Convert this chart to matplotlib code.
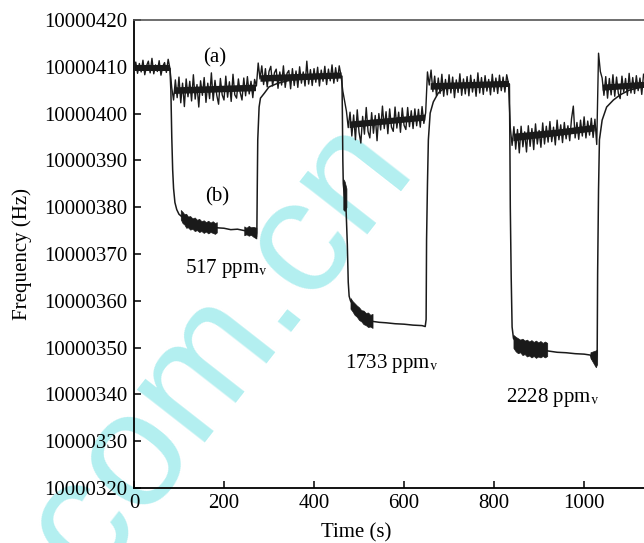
import numpy as np
import matplotlib.pyplot as plt

plt.rcParams['font.family'] = ['Liberation Serif', 'DejaVu Serif']
plt.rcParams['mathtext.fontset'] = 'stix'

BASE = 10000000  # frequencies below are Hz above 10 MHz

# curve (a): one reading every 4 s, starting at t = 0
a_step = 4
a_freq = [
    # 0-80 s
    409.9, 411.0, 408.6, 410.7, 408.9, 411.4, 408.3, 410.2, 411.2, 408.7,
    411.8, 408.5, 410.4, 409.0, 411.3, 408.2, 410.1, 410.9, 408.8, 411.6, 409.6,
    # 84-272 s, 517 ppmv
    405.5,
    402.9, 407.2, 403.4, 407.8, 402.3, 406.5, 401.5, 407.4, 403.6, 406.9,
    402.7, 408.3, 403.1, 406.2, 401.4, 407.0, 403.9, 407.7, 402.4, 406.5,
    403.2, 408.7, 402.8, 407.1, 403.9, 402.0, 407.5, 404.0, 402.9, 408.0,
    403.5, 406.8, 402.6, 408.4, 404.0, 403.3, 407.4, 404.5, 402.9, 407.6,
    403.8, 407.9, 404.2, 406.9, 403.4, 407.3, 405.9,
    # 276-460 s
    410.8, 407.4, 410.2, 406.2, 409.6, 405.7, 409.0, 410.1, 405.9, 408.7,
    409.5, 405.4, 408.9, 406.1, 410.2, 405.6, 408.6, 409.2, 405.3, 409.6,
    406.0, 409.1, 405.6, 410.0, 406.5, 408.9, 405.9, 411.2, 406.3, 409.4,
    406.0, 409.6, 406.7, 409.9, 405.9, 409.3, 406.9, 410.1, 406.2, 409.5,
    407.0, 410.4, 406.5, 409.8, 406.9, 410.2, 408.1,
    # 464-648 s, 1733 ppmv
    404.8, 402.6, 400.5, 397.0, 400.3, 395.2, 399.7, 394.4, 400.8, 396.0,
    393.7, 399.4, 395.6, 401.3, 396.2, 394.8, 400.2, 395.8, 399.6, 394.2,
    400.0, 396.5, 401.6, 396.8, 400.4, 395.7, 401.0, 397.1, 396.2, 401.4,
    396.9, 400.3, 396.0, 401.2, 397.5, 396.6, 401.3, 397.2, 400.6, 396.8,
    401.0, 397.4, 400.9, 397.1, 401.5, 397.9, 400.2,
    # 652-832 s
    408.9, 406.1, 409.3, 404.7, 408.0, 403.8, 407.6, 404.3, 408.4, 403.7,
    407.3, 404.0, 408.3, 404.4, 407.8, 403.4, 407.2, 404.5, 408.5, 403.9,
    407.4, 404.2, 407.9, 403.8, 408.2, 404.6, 407.3, 403.7, 408.7, 404.4,
    407.7, 404.1, 408.1, 404.8, 407.3, 404.0, 408.4, 404.7, 407.6, 404.3,
    408.2, 404.9, 407.8, 404.6, 408.3, 406.4,
    # 836-1028 s, 2228 ppmv
    397.0, 393.2, 397.2, 392.4, 396.6, 391.6, 397.3, 392.9, 396.1, 391.8,
    397.4, 393.0, 396.8, 392.3, 397.8, 393.5, 396.4, 392.8, 398.0, 393.5,
    397.3, 393.9, 398.3, 394.0, 397.1, 393.3, 398.6, 394.4, 397.6, 393.8,
    398.1, 394.6, 397.4, 394.2, 398.9, 401.6, 394.8, 398.1, 394.5, 398.6,
    395.2, 399.3, 394.8, 398.4, 395.4, 399.0, 394.9, 398.8, 393.4,
    # 1032-1132 s
    412.9, 409.0, 407.6, 403.9, 407.9, 403.3, 407.5, 404.0, 408.3, 403.7,
    407.8, 404.3, 403.2, 408.0, 404.6, 407.5, 403.9, 408.6, 404.4, 407.7,
    404.3, 408.1, 404.9, 407.6, 404.1, 408.4,
]

# dense core of the (a) noise on each plateau: (times, lower edge, upper edge)
a_core = [
    ([0, 80], [409.0, 409.0], [410.3, 410.3]),
    ([88, 270], [404.3, 404.9], [405.7, 406.3]),
    ([280, 460], [406.9, 407.6], [408.3, 408.9]),
    ([478, 560, 646], [397.0, 397.8, 398.6], [398.4, 399.1, 399.9]),
    ([658, 832], [405.2, 405.8], [406.6, 407.1]),
    ([842, 940, 1022], [394.2, 395.3, 396.3], [395.8, 396.7, 397.7]),
    ([1040, 1133], [405.0, 405.6], [406.3, 406.9]),
]

# curve (b): trace read point by point
b_time = [80, 82, 84, 86, 88, 91, 95, 100, 106, 120, 140, 160, 184, 200, 215,
          230, 245, 258, 270, 272, 273, 274, 275, 278, 281, 290, 300, 320, 350,
          400, 462,
          463, 464, 465, 468, 471, 474, 476, 478, 481, 490, 500, 515, 530, 545,
          560, 580, 600, 620, 640, 647, 649, 650, 652, 654, 658, 665, 676, 690,
          720, 780, 833,
          834, 835, 836, 838, 840, 843, 850, 870, 890, 918, 940, 960, 980, 1000,
          1014, 1018, 1022, 1026, 1029, 1030, 1032, 1034, 1040, 1050, 1065,
          1080, 1100, 1133]
b_freq = [409.6, 405.0, 395.0, 388.0, 384.0, 381.0, 379.5, 378.5, 378.0, 377.3,
          376.6, 376.1, 375.6, 375.5, 375.2, 375.3, 375.0, 374.8, 374.5, 373.6,
          374.5, 385.0, 394.4, 401.4, 403.3, 404.4, 405.7, 406.5, 407.2, 407.5,
          408.0,
          400.0, 390.0, 385.0, 382.0, 380.0, 372.0, 364.0, 361.0, 360.0, 358.6,
          357.6, 356.5, 355.6, 355.4, 355.3, 355.1, 355.0, 354.8, 354.7, 354.5,
          356.0, 373.0, 385.0, 394.4, 400.1, 402.5, 404.4, 405.5, 406.0, 406.2,
          406.4,
          406.3, 395.0, 380.0, 365.0, 354.4, 352.0, 351.0, 350.5, 350.0, 349.3,
          349.0, 348.9, 348.7, 348.6, 348.4, 347.5, 347.8, 346.3, 349.0, 365.9,
          383.7, 394.4, 398.6, 401.4, 402.9, 404.0, 405.0, 405.8]

# noisy stretches of (b): (times, lower edge, upper edge)
b_bands = [
    ([104, 108, 112, 116, 120, 125, 130, 135, 140, 145, 150, 155, 160, 165,
      170, 175, 180, 184],
     [377.4, 376.6, 376.3, 375.6, 375.7, 375.2, 375.4, 374.9, 375.1, 374.7,
      374.9, 374.5, 374.8, 374.4, 374.7, 374.5, 374.3, 374.6],
     [379.4, 379.0, 378.5, 378.6, 378.0, 378.1, 377.6, 377.8, 377.3, 377.5,
      377.0, 377.2, 376.8, 377.1, 376.7, 377.0, 376.6, 376.8]),
    ([245, 250, 255, 260, 265, 272],
     [374.0, 374.2, 373.9, 374.1, 373.7, 373.3],
     [375.9, 375.6, 376.0, 375.7, 375.8, 375.6]),
    ([465, 468, 472],
     [379.5, 379.2, 380.0],
     [386.0, 385.5, 384.0]),
    ([481, 485, 490, 495, 500, 505, 510, 515, 520, 525, 530],
     [358.3, 357.8, 357.0, 356.6, 355.9, 355.6, 355.0, 354.8, 354.4, 354.5,
      354.2],
     [360.6, 360.0, 359.5, 359.0, 358.6, 358.0, 357.9, 357.4, 357.5, 357.0,
      357.2]),
    ([843, 848, 853, 858, 863, 868, 873, 878, 883, 888, 893, 898, 903, 908,
      913, 918],
     [349.9, 349.2, 348.8, 349.0, 348.4, 348.6, 348.1, 348.3, 347.9, 348.2,
      347.8, 348.1, 347.9, 348.2, 347.9, 348.2],
     [352.7, 352.3, 352.0, 351.7, 351.9, 351.5, 351.7, 351.3, 351.6, 351.2,
      351.5, 351.1, 351.4, 351.0, 351.3, 351.0]),
    ([1014, 1020, 1026, 1029],
     [347.8, 346.8, 345.8, 346.5],
     [349.0, 349.2, 349.4, 349.6]),
]

conc_labels = ['517 ppm$_{\\rm v}$', '1733 ppm$_{\\rm v}$', '2228 ppm$_{\\rm v}$']
conc_pos = [(206, 366.9), (573, 346.7), (930, 339.4)]

a_time = np.arange(len(a_freq)) * a_step
a_f = BASE + np.array(a_freq)
b_f = BASE + np.array(b_freq)
ink = '#1a1a1a'

fig = plt.figure(figsize=(6.44, 5.43), dpi=100)
ax = fig.add_axes([0.208, 0.1013, 0.792, 0.8619])

ax.plot(a_time, a_f, color=ink, lw=1.0, zorder=3)
for ct, lo, hi in a_core:
    ax.fill_between(ct, BASE + np.array(lo), BASE + np.array(hi),
                    color=ink, lw=0, zorder=3)
ax.plot(b_time, b_f, color=ink, lw=1.1, zorder=3)
for bt, lo, hi in b_bands:
    ax.fill_between(bt, BASE + np.array(lo), BASE + np.array(hi),
                    color=ink, lw=0.5, zorder=3)

ax.text(180, BASE + 411.9, '(a)', fontsize=15, ha='center', va='center')
ax.text(186, BASE + 382.2, '(b)', fontsize=15, ha='center', va='center')
for lab, (x, y) in zip(conc_labels, conc_pos):
    ax.text(x, BASE + y, lab, fontsize=15, ha='center', va='center')

ax.set_xlim(0, 1133)
ax.set_ylim(BASE + 320, BASE + 420)
ax.set_xticks([0, 200, 400, 600, 800, 1000])
ax.set_yticks(np.arange(BASE + 320, BASE + 421, 10))
ax.ticklabel_format(axis='y', useOffset=False, style='plain')
ax.tick_params(direction='in', length=5, width=1.1, labelsize=15,
               top=False, right=False)
ax.tick_params(axis='y', pad=5)
ax.tick_params(axis='x', pad=4)
for s in ['left', 'bottom']:
    ax.spines[s].set_linewidth(1.3)
ax.spines['top'].set_color('#555555')
ax.spines['top'].set_linewidth(1.2)
ax.spines['right'].set_visible(False)

ax.set_xlabel('Time (s)', fontsize=15)
ax.set_ylabel('Frequency (Hz)', fontsize=15)
ax.xaxis.set_label_coords(0.435, -0.075)
ax.yaxis.set_label_coords(-0.2, 0.5)

# watermark
ax.text(0.340, 0.36, 'com.cn', transform=fig.transFigure, rotation=52,
        rotation_mode='anchor', ha='center', va='center', fontsize=118,
        family='Liberation Sans', color='#b3eff0', zorder=1, clip_on=False)

fig.savefig('out.png', dpi=100)
